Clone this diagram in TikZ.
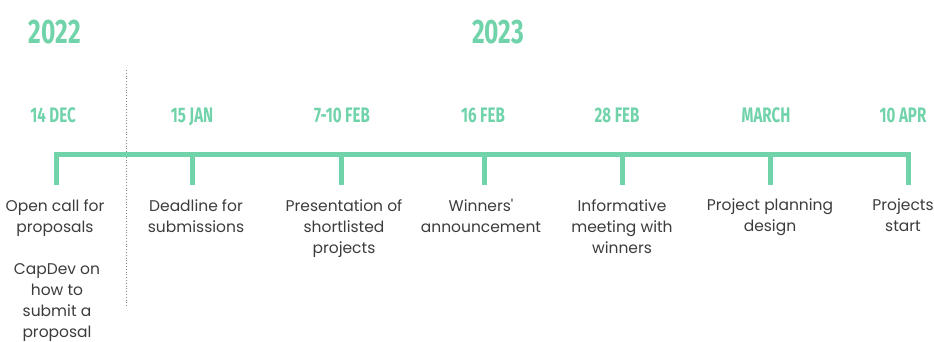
\documentclass[tikz,border=0pt]{standalone}
\usepackage{fontspec}
\setmainfont{Poppins}
\newfontfamily\datefont{Fira Sans}[FakeStretch=0.72]
\usetikzlibrary{positioning}

\definecolor{mint}{RGB}{112,211,170}
\definecolor{inkgray}{RGB}{60,60,60}

\tikzset{
    year/.style={text=mint, anchor=base, font=\datefont\bfseries\fontsize{34}{34}\selectfont},
    date/.style={text=mint, anchor=base, font=\datefont\bfseries\fontsize{21}{21}\selectfont},
    label/.style={text=inkgray, align=center, font=\fontsize{15.5}{21}\selectfont,
        anchor=north, inner sep=0pt},
    rail/.style={draw=mint, line width=5pt},
}

\begin{document}
\begin{tikzpicture}[x=1pt, y=-1pt]
    \useasboundingbox (0,0) rectangle (934,342);

    % years
    \node[year] (y22) at (55,44)  {2022};
    \node[year] (y23) at (498,44) {2023};

    % year divider
    \coordinate (divtop) at (126,70);
    \coordinate (divbot) at (126,307);
    \draw[gray, dotted, line width=0.8pt] (divtop) -- (divbot);

    % ticks
    \foreach \n/\x in {1/56, 2/192, 3/341, 4/484, 5/622, 6/770, 7/908} {
        \coordinate (t\n) at (\x,154);
        \coordinate (b\n) at (\x,185);
    }
    \draw[rail, line cap=butt] (b1) -- (t1) -- (t7) -- (b7);
    \foreach \n in {2,...,6}
        \draw[rail] (t\n) -- (b\n);

    % dates
    \node[date] (d1) at (53,123)  {14 DEC};
    \node[date] (d2) at (192,123) {15 JAN};
    \node[date] (d3) at (342,123) {7-10 FEB};
    \node[date] (d4) at (483,123) {16 FEB};
    \node[date] (d5) at (617,123) {28 FEB};
    \node[date] (d6) at (766,123) {MARCH};
    \node[date] (d7) at (903,123) {10 APR};

    % what happens
    \node[label] (e1) at (55,199)  {Open call for\\proposals};
    \node[label] (e1b) at (57,263) {CapDev on\\how to\\submit a\\proposal};
    \node[label] (e2) at (196,199) {Deadline for\\submissions};
    \node[label] (e3) at (344,199) {Presentation of\\shortlisted\\projects};
    \node[label] (e4) at (481,199) {Winners\textquotesingle\\announcement};
    \node[label] (e5) at (622,199) {Informative\\meeting with\\winners};
    \node[label] (e6) at (770,199) {Project planning\\design};
    \node[label] (e7) at (903,199) {Projects\\start};
\end{tikzpicture}
\end{document}
